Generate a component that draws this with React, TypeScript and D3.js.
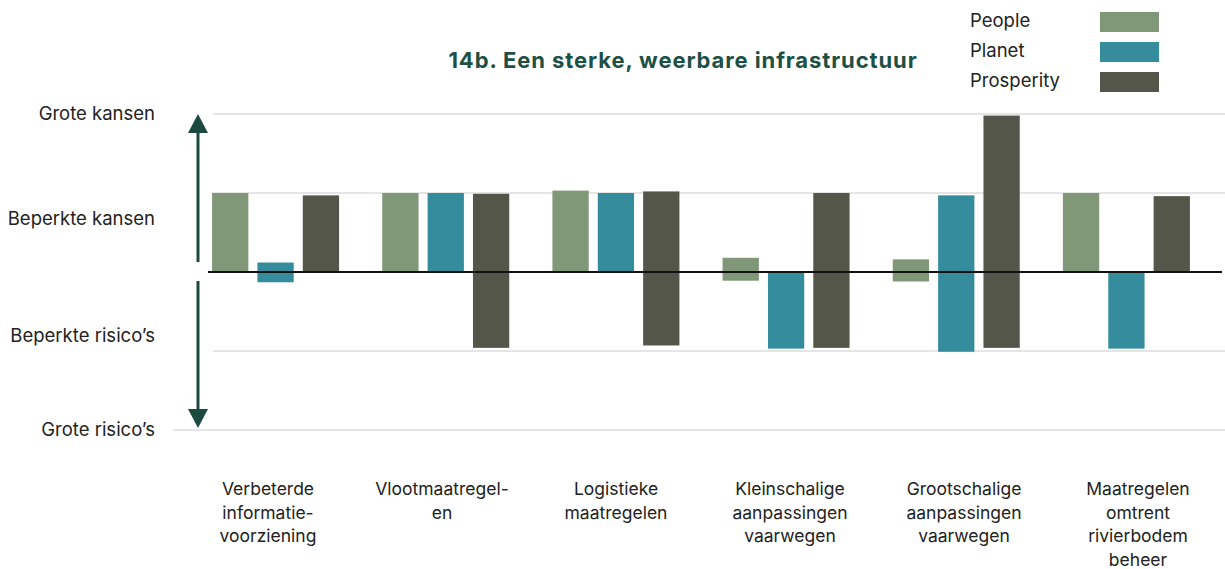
import * as d3 from 'd3'
import React from 'react'

const categories = [
  ['Verbeterde', 'informatie-', 'voorziening'],
  ['Vlootmaatregel-', 'en'],
  ['Logistieke', 'maatregelen'],
  ['Kleinschalige', 'aanpassingen', 'vaarwegen'],
  ['Grootschalige', 'aanpassingen', 'vaarwegen'],
  ['Maatregelen', 'omtrent', 'rivierbodem', 'beheer'],
]

const seriesNames = ['People', 'Planet', 'Prosperity']

// [low, high] per category
const peopleValues: [number, number][] = [[0, 1.0], [0, 1.0], [0, 1.03], [-0.11, 0.18], [-0.12, 0.16], [0, 1.0]]
const planetValues: [number, number][] = [[-0.13, 0.12], [0, 1.0], [0, 1.0], [-0.97, 0], [-1.01, 0.97], [-0.97, 0]]
const prosperityValues: [number, number][] = [[0, 0.97], [-0.96, 0.99], [-0.93, 1.02], [-0.96, 1.0], [-0.96, 1.98], [0, 0.96]]

const levelLabels = ['Grote kansen', 'Beperkte kansen', 'Beperkte risico\u2019s', 'Grote risico\u2019s']
const gridLevels = [2, 1, -1, -2]
const labelLevels = [2, 0.68, -0.8, -2]

const colors = ['#809778', '#358c9d', '#54564a']
const arrowColor = '#1d4a40'
const font = 'Inter, sans-serif'

const width = 1225
const height = 569

const App: React.FC = () => {
  const x0 = d3.scaleBand<number>().domain(d3.range(categories.length)).range([190.5, 1211.5])
  const x1 = d3.scaleBand<number>().domain([0, 1, 2]).range([0, 127]).paddingInner(0.2)
  const offset = (x0.bandwidth() - 127) / 2
  // category labels sit on a slightly wider spacing than the bars
  const xl = d3.scaleBand<number>().domain(d3.range(categories.length)).range([181, 1225])
  const y = d3.scaleLinear().domain([-2, 2]).range([430, 114])

  const series = [peopleValues, planetValues, prosperityValues]

  const arrowX = 198

  return (
    <svg width={width} height={height} style={{ position: 'absolute', left: 0, top: 0, background: '#fff' }}>
      {/* title */}
      <text x={683} y={68} textAnchor='middle' fontFamily={font} fontWeight={700} fontSize={22} letterSpacing={0.9} fill='#1d5045'>
        14b. Een sterke, weerbare infrastructuur
      </text>

      {/* legend */}
      {seriesNames.map((name, i) => (
        <g key={name} transform={`translate(0,${i * 30})`}>
          <text x={970} y={27} fontFamily={font} fontSize={18.5} fill='#222'>
            {name}
          </text>
          <rect x={1100} y={12} width={59} height={20} fill={colors[i]} />
        </g>
      ))}

      {/* grid */}
      {gridLevels.map((v) => (
        <line key={v} x1={v === -2 ? 173 : 213} x2={1225} y1={y(v)} y2={y(v)} stroke='#dcdcdc' strokeWidth={1.5} />
      ))}

      {/* y labels */}
      {levelLabels.map((t, i) => (
        <text key={t} x={155} y={y(labelLevels[i])} dy='0.35em' textAnchor='end' fontFamily={font} fontSize={18.5} fill='#222'>
          {t}
        </text>
      ))}

      {/* arrow */}
      <line x1={arrowX} x2={arrowX} y1={y(2) + 10} y2={y(0) - 10} stroke={arrowColor} strokeWidth={3} />
      <line x1={arrowX} x2={arrowX} y1={y(0) + 9} y2={y(-2) - 10} stroke={arrowColor} strokeWidth={3} />
      <path d={`M${arrowX},${y(2)} L${arrowX - 10},${y(2) + 19} L${arrowX + 10},${y(2) + 19} Z`} fill={arrowColor} />
      <path d={`M${arrowX},${y(-2) - 2} L${arrowX - 10},${y(-2) - 21} L${arrowX + 10},${y(-2) - 21} Z`} fill={arrowColor} />

      {/* bars */}
      {series.map((vals, s) =>
        vals.map(([lo, hi], c) => (
          <rect
            key={`${s}-${c}`}
            x={(x0(c) || 0) + offset + (x1(s) || 0)}
            width={x1.bandwidth()}
            y={y(hi)}
            height={y(lo) - y(hi)}
            fill={colors[s]}
          />
        ))
      )}

      {/* zero line */}
      <line x1={208} x2={1222} y1={y(0)} y2={y(0)} stroke='#111' strokeWidth={2} />

      {/* categories */}
      {categories.map((lines, c) => {
        const cx = (xl(c) || 0) + xl.bandwidth() / 2
        return (
          <text key={c} x={cx} y={495} textAnchor='middle' fontFamily={font} fontSize={17.5} fill='#222'>
            {lines.map((l, i) => (
              <tspan key={i} x={cx} dy={i === 0 ? 0 : 23.5}>
                {l}
              </tspan>
            ))}
          </text>
        )
      })}
    </svg>
  )
}

export default App
